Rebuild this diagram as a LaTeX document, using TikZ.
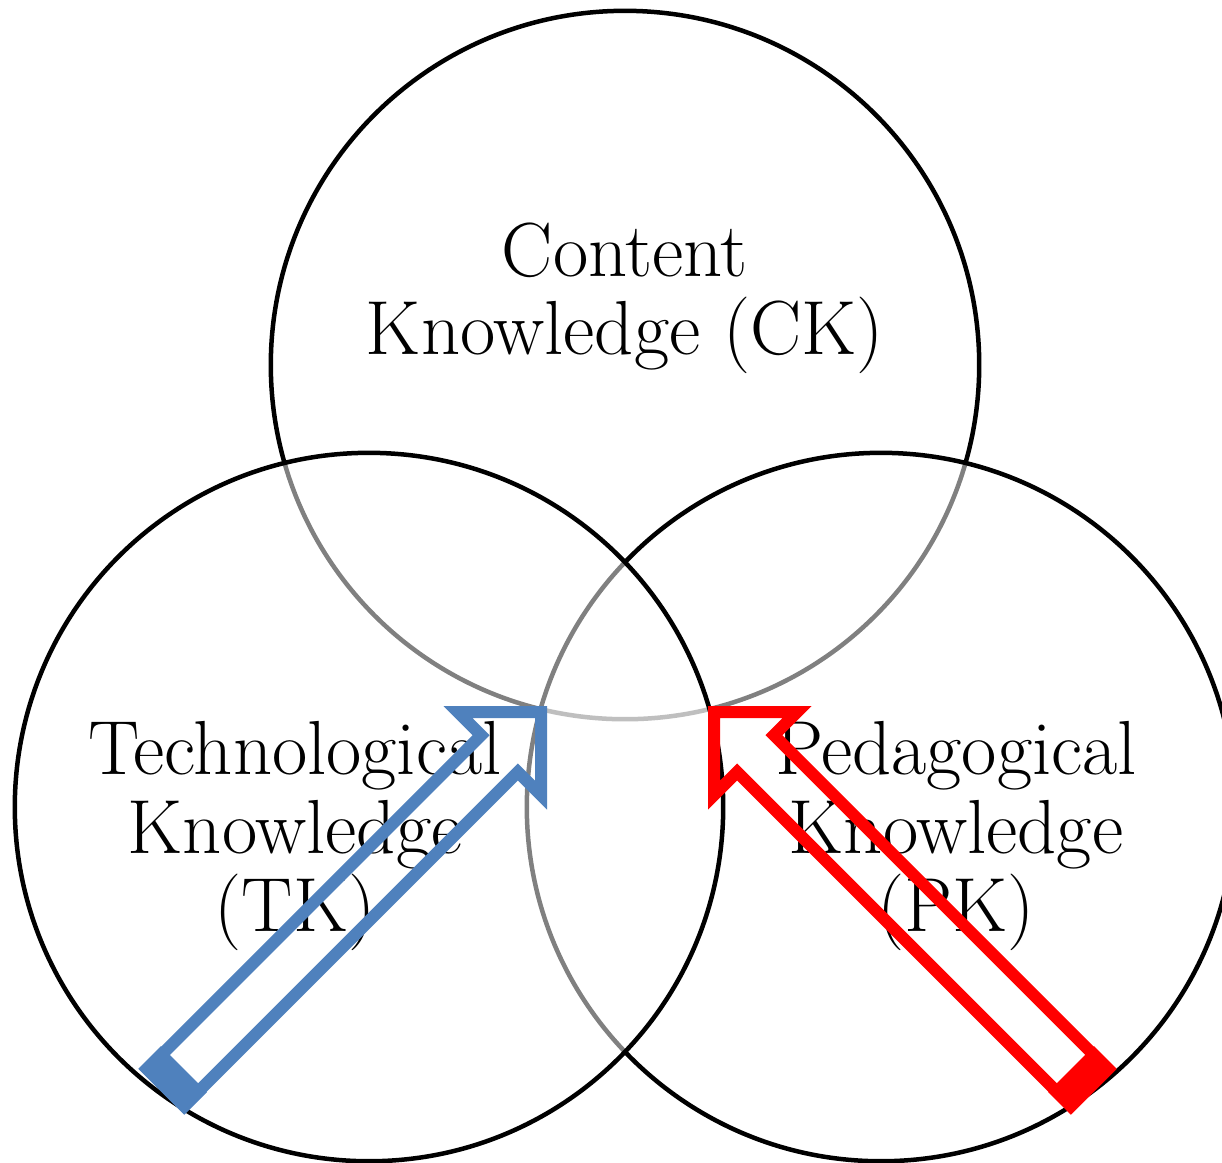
\documentclass[tikz,border=0pt]{standalone}
\usepackage{fontspec}
\usepackage{xcolor}
\usetikzlibrary{positioning}
\definecolor{techblue}{HTML}{4F81BD}
\definecolor{pedred}{HTML}{FF0000}

\begin{document}
\begin{tikzpicture}[x=0.01cm, y=-0.01cm]
	\tikzstyle{area}
	  =[draw=black, circle, line width=0.045cm, fill=white,
	  fill opacity=0.5, inner sep=0pt, minimum size=7.08cm]
	\tikzstyle{areatext}
	  =[align=center, inner sep=0pt, font=\fontsize{21.8}{22.2}\selectfont]
	\tikzstyle{hollow}
	  =[line width=0.12cm, line join=miter]

	\useasboundingbox (0,0) rectangle (1222,1162);

	% circles: top first, then right, then left
	\node[area] (CK) at (625,365) {};
	\node[area] (PK) at (881,807) {};
	\node[area] (TK) at (369,807) {};

	\node[areatext] (CKtext) at (625,298)
	  {Content\\Knowledge (CK)};
	\node[areatext] (TKtext) at (295,836)
	  {Technological\\Knowledge\\(TK)};
	\node[areatext] (PKtext) at (956,836)
	  {Pedagogical\\Knowledge\\(PK)};

	% block arrows
	\begin{scope}[shift={(541,712)}, rotate=45]
	  \draw[hollow, draw=techblue] (0,0) -- (-58.7,58.7) -- (-58.7,26)
	    -- (-531,26) -- (-531,-26) -- (-58.7,-26) -- (-58.7,-58.7) -- cycle;
	  \fill[techblue] (-537,-32.5) -- (-505,-32.5) -- (-505,32.5)
	    -- (-537,32.5) -- cycle;
	\end{scope}
	\begin{scope}[shift={(714,712)}, rotate=135]
	  \draw[hollow, draw=pedred] (0,0) -- (-58.7,58.7) -- (-58.7,26)
	    -- (-531,26) -- (-531,-26) -- (-58.7,-26) -- (-58.7,-58.7) -- cycle;
	  \fill[pedred] (-537,-32.5) -- (-505,-32.5) -- (-505,32.5)
	    -- (-537,32.5) -- cycle;
	\end{scope}
\end{tikzpicture}
\end{document}
